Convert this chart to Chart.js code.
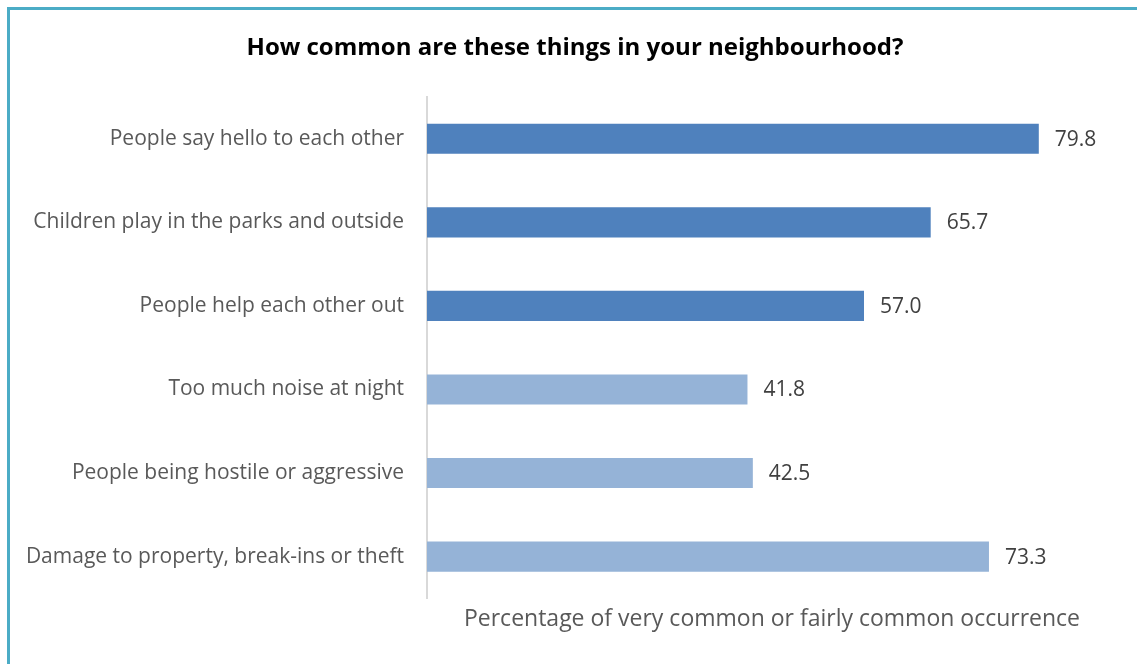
<!DOCTYPE html>
<html>
<script src="https://cdn.jsdelivr.net/npm/chart.js@4.4.1/dist/chart.umd.min.js"></script>
<body style="margin:0;background:#fff;">

<div id="frame" style="position:absolute;left:7px;top:7px;width:1200px;height:720px;border:3px solid #4BACC6;box-sizing:border-box;"></div>
<div style="position:absolute;left:0;top:0;width:1137px;height:664px;">
    <canvas id="myChart" width="1137" height="664"></canvas>
</div>

<script>

    const chartTitle = "How common are these things in your neighbourhood?";
    const categories = [
        "People say hello to each other",
        "Children play in the parks and outside",
        "People help each other out",
        "Too much noise at night",
        "People being hostile or aggressive",
        "Damage to property, break-ins or theft"
    ];
    const values = [79.8, 65.7, 57.0, 41.8, 42.5, 73.3];
    const barColors = ["#4F81BD", "#4F81BD", "#4F81BD", "#95B3D7", "#95B3D7", "#95B3D7"];

    // writes the value just past the end of each bar, plus the heading
    const valueLabels = {
        id: "valueLabels",
        afterDatasetsDraw(chart) {
            const ctx = chart.ctx;
            const meta = chart.getDatasetMeta(0);
            ctx.save();
            ctx.font = "21px 'Open Sans'";
            ctx.fillStyle = "#404040";
            ctx.textAlign = "left";
            ctx.textBaseline = "middle";
            meta.data.forEach((bar, i) => {
                ctx.fillText(values[i].toFixed(1), bar.x + 16, bar.y + 1);
            });

            ctx.font = "bold 24px 'Open Sans'";
            ctx.fillStyle = "#000";
            ctx.textAlign = "center";
            ctx.fillText(chartTitle, 575, 48);
            ctx.restore();
        }
    };

    const chart = new Chart(document.getElementById("myChart"), {
        type: "bar",
        data: {
            labels: categories,
            datasets: [{
                data: values,
                backgroundColor: barColors,
                barPercentage: 0.36,
                categoryPercentage: 1
            }]
        },
        options: {
            indexAxis: "y",
            responsive: false,
            animation: false,
            layout: { padding: { top: 97, right: 20 } },
            plugins: {
                legend: { display: false },
                tooltip: { enabled: false }
            },
            scales: {
                x: {
                    min: 0,
                    max: 90,
                    grid: { display: false, drawTicks: false },
                    border: { display: false },
                    ticks: { display: false },
                    title: {
                        display: true,
                        text: "Percentage of very common or fairly common occurrence",
                        color: "#595959",
                        font: { family: "'Open Sans'", size: 23, lineHeight: 1.2 },
                        padding: { top: 7, bottom: 31 }
                    }
                },
                y: {
                    afterFit(scale) { scale.width = 427; },
                    grid: { display: false, drawTicks: false },
                    border: { display: true, color: "#D9D9D9", width: 2 },
                    ticks: {
                        color: "#595959",
                        padding: 23,
                        font: { family: "'Open Sans'", size: 21 }
                    }
                }
            }
        },
        plugins: [valueLabels]
    });

</script>

</body>
</html>
